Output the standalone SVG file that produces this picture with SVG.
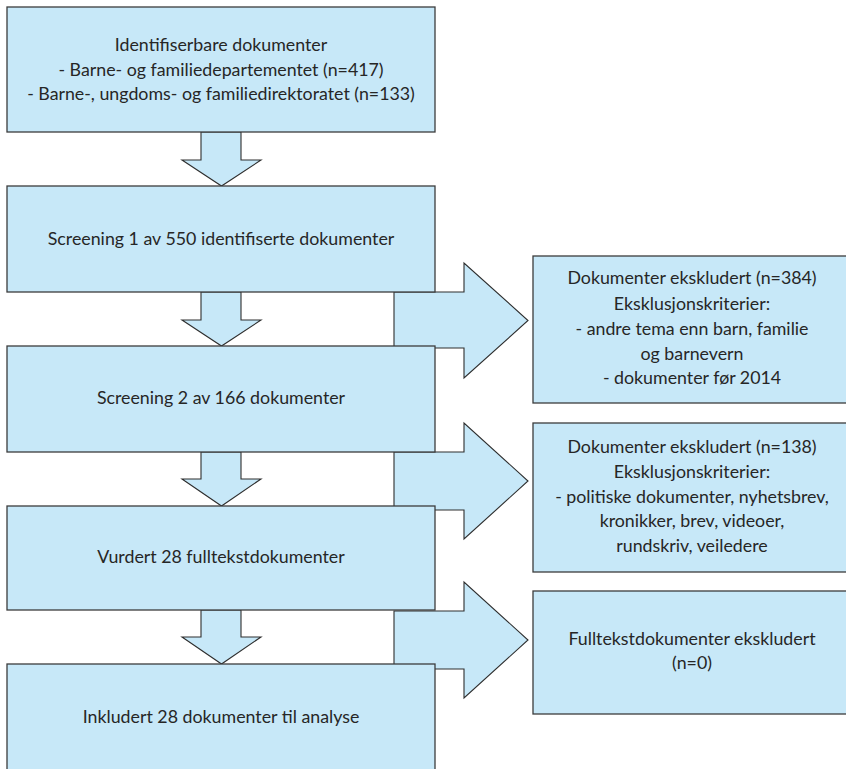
<svg xmlns="http://www.w3.org/2000/svg" width="846" height="769" viewBox="0 0 846 769">
<style>
.box{fill:#c7e8f8;stroke:#3c3c3c;stroke-width:1.3}
.arr{fill:#c7e8f8;stroke:#2e2e2e;stroke-width:1.1;stroke-linejoin:miter}
text{font-family:Lato,"Liberation Sans",sans-serif;font-size:17.8px;fill:#262626;text-anchor:middle}
</style>
<rect width="846" height="769" fill="#ffffff"/>
<g id="connectors">
<polygon class="arr" points="394,292 464,292 464,263 528,320.5 464,378 464,348 394,348"/>
<polygon class="arr" points="394,452 464,452 464,423 528,481 464,539 464,510 394,510"/>
<polygon class="arr" points="394,611 464,611 464,582 528,640 464,698 464,669 394,669"/>
<polygon class="arr" points="201,132 241,132 241,160 261,160 221.5,186 182,160 201,160"/>
<polygon class="arr" points="201,292 241,292 241,320 261,320 221.5,346 182,320 201,320"/>
<polygon class="arr" points="201,452 241,452 241,479 261,479 221.5,506 182,479 201,479"/>
<polygon class="arr" points="201,610 241,610 241,637 261,637 221.5,664 182,637 201,637"/>
</g>
<g id="n1">
<rect class="box" x="7" y="7" width="428" height="125"/>
<text x="221" y="51">Identifiserbare dokumenter</text>
<text x="221" y="76">- Barne- og familiedepartementet (n=417)</text>
<text x="221" y="100">- Barne-, ungdoms- og familiedirektoratet (n=133)</text>
</g>
<g id="n2">
<rect class="box" x="7" y="186" width="428" height="106"/>
<text x="221" y="245">Screening 1 av 550 identifiserte dokumenter</text>
</g>
<g id="n3">
<rect class="box" x="7" y="346" width="428" height="106"/>
<text x="221" y="404">Screening 2 av 166 dokumenter</text>
</g>
<g id="n4">
<rect class="box" x="7" y="506" width="428" height="104"/>
<text x="221" y="563">Vurdert 28 fulltekstdokumenter</text>
</g>
<g id="n5">
<rect class="box" x="7" y="664" width="428" height="120"/>
<text x="221" y="723">Inkludert 28 dokumenter til analyse</text>
</g>
<g id="r1">
<rect class="box" x="533" y="256" width="320" height="147"/>
<text x="692" y="284">Dokumenter ekskludert (n=384)</text>
<text x="692" y="310">Eksklusjonskriterier:</text>
<text x="692" y="335">- andre tema enn barn, familie</text>
<text x="692" y="360">og barnevern</text>
<text x="692" y="384">- dokumenter før 2014</text>
</g>
<g id="r2">
<rect class="box" x="533" y="423" width="320" height="149"/>
<text x="692" y="453">Dokumenter ekskludert (n=138)</text>
<text x="692" y="478">Eksklusjonskriterier:</text>
<text x="692" y="503">- politiske dokumenter, nyhetsbrev,</text>
<text x="692" y="527">kronikker, brev, videoer,</text>
<text x="692" y="552">rundskriv, veiledere</text>
</g>
<g id="r3">
<rect class="box" x="533" y="591" width="320" height="123"/>
<text x="692" y="645">Fulltekstdokumenter ekskludert</text>
<text x="692" y="669">(n=0)</text>
</g>
</svg>
